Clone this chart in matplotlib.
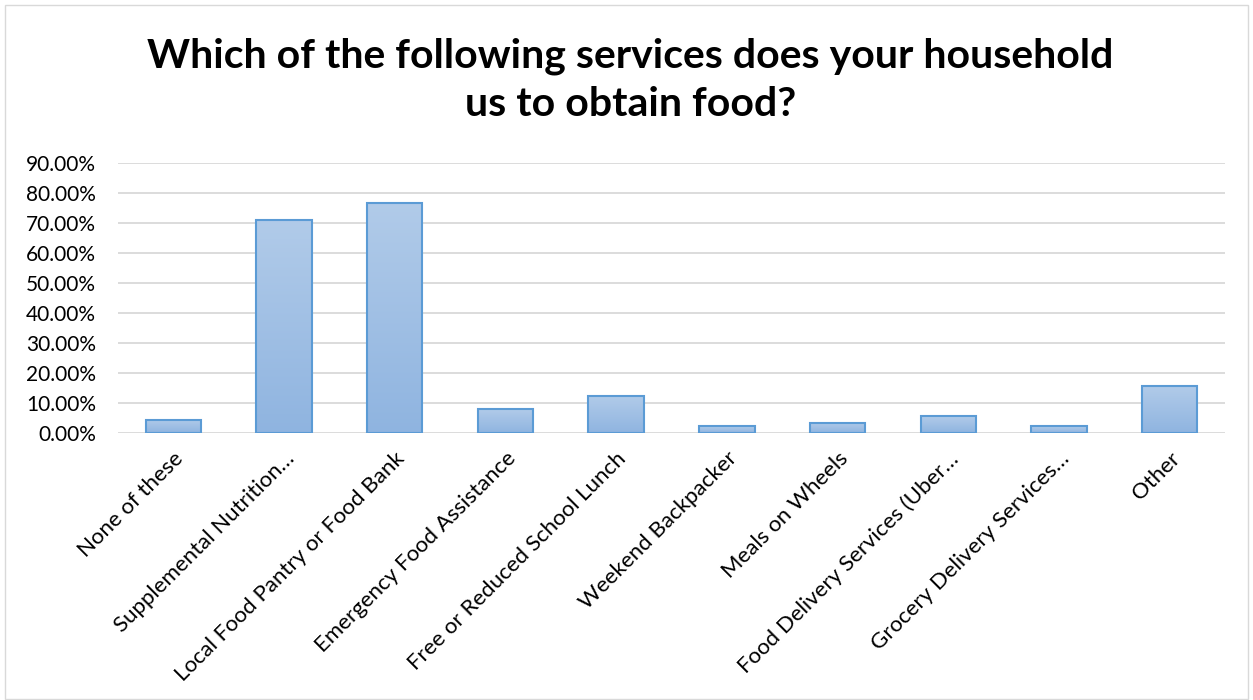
import numpy as np
import matplotlib
matplotlib.use("Agg")
import matplotlib.pyplot as plt
from matplotlib.ticker import FuncFormatter
from matplotlib.colors import LinearSegmentedColormap
from matplotlib.patches import Rectangle

plt.rcParams['font.family'] = ['Lato', 'DejaVu Sans']

categories = [
    "None of these",
    "Supplemental Nutrition…",
    "Local Food Pantry or Food Bank",
    "Emergency Food Assistance",
    "Free or Reduced School Lunch",
    "Weekend Backpacker",
    "Meals on Wheels",
    "Food Delivery Services (Uber…",
    "Grocery Delivery Services…",
    "Other",
]
shares = [4.5, 70.9, 76.7, 7.9, 12.3, 2.2, 3.4, 5.6, 2.2, 15.6]
y_ticks = [0, 10, 20, 30, 40, 50, 60, 70, 80, 90]
title = "Which of the following services does your household\nus to obtain food?"

fig = plt.figure(figsize=(12.53, 7.0), dpi=100)
fig.patch.set_facecolor("white")
# thin chart-area frame
fig.add_artist(Rectangle((0.004, 0.002), 0.992, 0.991, transform=fig.transFigure,
                         fill=False, edgecolor="#d9d9d9", linewidth=1.0))

ax = fig.add_axes([118 / 1253, 1 - 433 / 700, 1107 / 1253, 270 / 700])
x = np.arange(len(categories))
bars = ax.bar(x, shares, width=0.5, color="none", edgecolor="#5b9bd5",
              linewidth=1.5, zorder=3)

# vertical gradient fill inside each bar
grad_cmap = LinearSegmentedColormap.from_list("barfill", ["#8fb4e0", "#b1cbe9"])
grad = np.linspace(0, 1, 256).reshape(-1, 1)
for b in bars:
    x0, y0 = b.get_x(), b.get_y()
    w, h = b.get_width(), b.get_height()
    im = ax.imshow(grad, cmap=grad_cmap, origin="lower", aspect="auto",
                   extent=[x0, x0 + w, y0, y0 + h], zorder=2)
    im.set_clip_path(b)

ax.set_xlim(-0.5, len(categories) - 0.5)
ax.set_ylim(0, 90)
ax.set_yticks(y_ticks)
ax.yaxis.set_major_formatter(FuncFormatter(lambda v, p: f"{v:.2f}%"))
ax.grid(axis="y", color="#d9d9d9", linewidth=1.3, zorder=0)
ax.set_axisbelow(True)
for s in ax.spines.values():
    s.set_visible(False)
ax.tick_params(axis="both", length=0)
ax.tick_params(axis="y", labelsize=15, colors="#000000", pad=16)
ax.set_xticks(x)
ax.set_xticklabels(categories, rotation=45, ha="right", rotation_mode="anchor",
                   fontsize=16)
ax.tick_params(axis="x", pad=11)

fig.text(0.503, 1 - 80 / 700, title, ha="center", va="center",
         fontsize=29.5, fontweight="bold", linespacing=1.38)

fig.savefig("out.png", dpi=100, facecolor="white")
